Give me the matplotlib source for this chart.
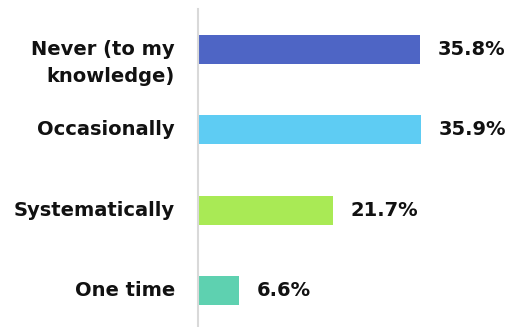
import matplotlib
matplotlib.use("Agg")
import matplotlib.pyplot as plt
from matplotlib.transforms import offset_copy

categories = ["Never (to my\nknowledge)", "Occasionally", "Systematically", "One time"]
values = [35.8, 35.9, 21.7, 6.6]
colors = ["#4E65C5", "#5ECCF3", "#A9EA55", "#5ED1B0"]

plt.rcParams["font.family"] = ["DejaVu Sans"]

fig = plt.figure(figsize=(5.23, 3.27), dpi=100)
ax = fig.add_axes([198 / 523, 0.0, 310 / 523, 1 - 9 / 327])

pos = list(range(len(categories)))
ax.barh(pos, values, height=0.36, color=colors, zorder=2)

ax.set_xlim(0, 50)
ax.set_ylim(3.455, -0.504)

for side in ["top", "right", "bottom"]:
    ax.spines[side].set_visible(False)
ax.spines["left"].set_color("#d9d9d9")
ax.spines["left"].set_linewidth(1.5)
ax.set_xticks([])
ax.set_yticks([])

for p, v, lab in zip(pos, values, categories):
    nlines = lab.count("\n") + 1
    shift = -(nlines - 1) * 27 / 2 * 72 / 100
    tr = offset_copy(ax.transData, fig=fig, x=-23 * 72 / 100, y=shift, units="points")
    ax.text(0, p, lab, transform=tr, ha="right", va="center", fontsize=14,
            fontweight="bold", color="#111111", linespacing=1.58)
    tr2 = offset_copy(ax.transData, fig=fig, x=18 * 72 / 100, y=0, units="points")
    ax.text(v, p, f"{v:.1f}%", transform=tr2, ha="left", va="center", fontsize=14,
            fontweight="bold", color="#111111")

fig.savefig("out.png", dpi=100)
